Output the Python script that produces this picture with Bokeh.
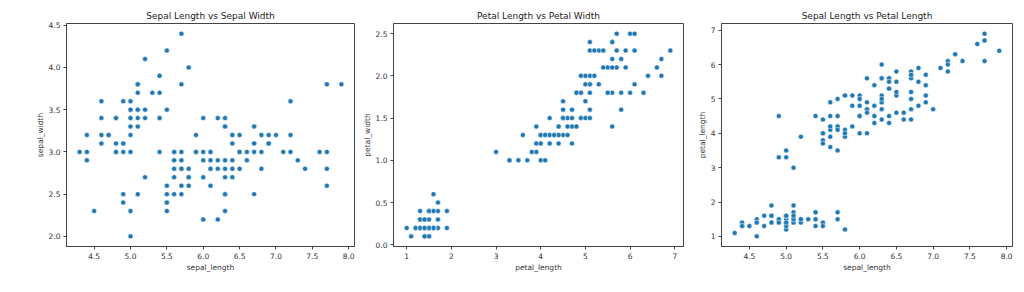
from bokeh.plotting import figure
from bokeh.layouts import row
from bokeh.models import ColumnDataSource, FixedTicker, Range1d, NumeralTickFormatter
from bokeh.embed import file_html
from bokeh.resources import INLINE

# Iris dataset (as seen in the scatter plots)
sepal_length = [5.1,4.9,4.7,4.6,5.0,5.4,4.6,5.0,4.4,4.9,5.4,4.8,4.8,4.3,5.8,5.7,5.4,5.1,5.7,5.1,
                5.4,5.1,4.6,5.1,4.8,5.0,5.0,5.2,5.2,4.7,4.8,5.4,5.2,5.5,4.9,5.0,5.5,4.9,4.4,5.1,
                5.0,4.5,4.4,5.0,5.1,4.8,5.1,4.6,5.3,5.0,7.0,6.4,6.9,5.5,6.5,5.7,6.3,4.9,6.6,5.2,
                5.0,5.9,6.0,6.1,5.6,6.7,5.6,5.8,6.2,5.6,5.9,6.1,6.3,6.1,6.4,6.6,6.8,6.7,6.0,5.7,
                5.5,5.5,5.8,6.0,5.4,6.0,6.7,6.3,5.6,5.5,5.5,6.1,5.8,5.0,5.6,5.7,5.7,6.2,5.1,5.7,
                6.3,5.8,7.1,6.3,6.5,7.6,4.9,7.3,6.7,7.2,6.5,6.4,6.8,5.7,5.8,6.4,6.5,7.7,7.7,6.0,
                6.9,5.6,7.7,6.3,6.7,7.2,6.2,6.1,6.4,7.2,7.4,7.9,6.4,6.3,6.1,7.7,6.3,6.4,6.0,6.9,
                6.7,6.9,5.8,6.8,6.7,6.7,6.3,6.5,6.2,5.9]
sepal_width = [3.5,3.0,3.2,3.1,3.6,3.9,3.4,3.4,2.9,3.1,3.7,3.4,3.0,3.0,4.0,4.4,3.9,3.5,3.8,3.8,
               3.4,3.7,3.6,3.3,3.4,3.0,3.4,3.5,3.4,3.2,3.1,3.4,4.1,4.2,3.1,3.2,3.5,3.6,3.0,3.4,
               3.5,2.3,3.2,3.5,3.8,3.0,3.8,3.2,3.7,3.3,3.2,3.2,3.1,2.3,2.8,2.8,3.3,2.4,2.9,2.7,
               2.0,3.0,2.2,2.9,2.9,3.1,3.0,2.7,2.2,2.5,3.2,2.8,2.5,2.8,2.9,3.0,2.8,3.0,2.9,2.6,
               2.4,2.4,2.7,2.7,3.0,3.4,3.1,2.3,3.0,2.5,2.6,3.0,2.6,2.3,2.7,3.0,2.9,2.9,2.5,2.8,
               3.3,2.7,3.0,2.9,3.0,3.0,2.5,2.9,2.5,3.6,3.2,2.7,3.0,2.5,2.8,3.2,3.0,3.8,2.6,2.2,
               3.2,2.8,2.8,2.7,3.3,3.2,2.8,3.0,2.8,3.0,2.8,3.8,2.8,2.8,2.6,3.0,3.4,3.1,3.0,3.1,
               3.1,3.1,2.7,3.2,3.3,3.0,2.5,3.0,3.4,3.0]
petal_length = [1.4,1.4,1.3,1.5,1.4,1.7,1.4,1.5,1.4,1.5,1.5,1.6,1.4,1.1,1.2,1.5,1.3,1.4,1.7,1.5,
                1.7,1.5,1.0,1.7,1.9,1.6,1.6,1.5,1.4,1.6,1.6,1.5,1.5,1.4,1.5,1.2,1.3,1.4,1.3,1.5,
                1.3,1.3,1.3,1.6,1.9,1.4,1.6,1.4,1.5,1.4,4.7,4.5,4.9,4.0,4.6,4.5,4.7,3.3,4.6,3.9,
                3.5,4.2,4.0,4.7,3.6,4.4,4.5,4.1,4.5,3.9,4.8,4.0,4.9,4.7,4.3,4.4,4.8,5.0,4.5,3.5,
                3.8,3.7,3.9,5.1,4.5,4.5,4.7,4.4,4.1,4.0,4.4,4.6,4.0,3.3,4.2,4.2,4.2,4.3,3.0,4.1,
                6.0,5.1,5.9,5.6,5.8,6.6,4.5,6.3,5.8,6.1,5.1,5.3,5.5,5.0,5.1,5.3,5.5,6.7,6.9,5.0,
                5.7,4.9,6.7,4.9,5.7,6.0,4.8,4.9,5.6,5.8,6.1,6.4,5.6,5.1,5.6,6.1,5.6,5.5,4.8,5.4,
                5.6,5.1,5.1,5.9,5.7,5.2,5.0,5.2,5.4,5.1]
petal_width = [0.2,0.2,0.2,0.2,0.2,0.4,0.3,0.2,0.2,0.1,0.2,0.2,0.1,0.1,0.2,0.4,0.4,0.3,0.3,0.3,
               0.2,0.4,0.2,0.5,0.2,0.2,0.4,0.2,0.2,0.2,0.2,0.4,0.1,0.2,0.2,0.2,0.2,0.1,0.2,0.2,
               0.3,0.3,0.2,0.6,0.4,0.3,0.2,0.2,0.2,0.2,1.4,1.5,1.5,1.3,1.5,1.3,1.6,1.0,1.3,1.4,
               1.0,1.5,1.0,1.4,1.3,1.4,1.5,1.0,1.5,1.1,1.8,1.3,1.5,1.2,1.3,1.4,1.4,1.7,1.5,1.0,
               1.1,1.0,1.2,1.6,1.5,1.6,1.5,1.3,1.3,1.3,1.2,1.4,1.2,1.0,1.3,1.2,1.3,1.3,1.1,1.3,
               2.5,1.9,2.1,1.8,2.2,2.1,1.7,1.8,1.8,2.5,2.0,1.9,2.1,2.0,2.4,2.3,1.8,2.2,2.3,1.5,
               2.3,2.0,2.0,1.8,2.1,1.8,1.8,1.8,2.1,1.6,1.9,2.0,2.2,1.5,1.4,2.3,2.4,1.8,1.8,2.1,
               2.4,2.3,1.9,2.3,2.5,2.3,1.9,2.0,2.3,1.8]

titles = ["Sepal Length vs Sepal Width", "Petal Length vs Petal Width", "Sepal Length vs Petal Length"]
ticks_sl = [4.5, 5.0, 5.5, 6.0, 6.5, 7.0, 7.5, 8.0]
ticks_sw = [2.0, 2.5, 3.0, 3.5, 4.0, 4.5]
ticks_pl = [1, 2, 3, 4, 5, 6, 7]
ticks_pw = [0.0, 0.5, 1.0, 1.5, 2.0, 2.5]

src = ColumnDataSource(dict(sepal_length=sepal_length, sepal_width=sepal_width,
                            petal_length=petal_length, petal_width=petal_width))

FONT = "DejaVu Sans"


def padded(vals):
    lo, hi = min(vals), max(vals)
    m = (hi - lo) * 0.05
    return Range1d(lo - m, hi + m)


def make(xcol, ycol, title, xt, yt, xfmt, yfmt, w, lb, rb):
    p = figure(width=w, height=292, output_backend="svg", toolbar_location=None,
               min_border_left=lb, min_border_right=rb, min_border_top=23, min_border_bottom=46,
               x_range=padded(src.data[xcol]), y_range=padded(src.data[ycol]))
    p.title.text = title
    p.title.align = "center"
    p.title.text_font = FONT
    p.title.text_font_size = "9px"
    p.title.text_font_style = "normal"
    p.title.text_color = "#222222"
    p.title.standoff = 5
    p.xgrid.visible = False
    p.ygrid.visible = False
    p.outline_line_color = "#444444"
    p.outline_line_width = 1
    p.outline_line_alpha = 1
    p.background_fill_color = "white"
    p.border_fill_color = "white"
    for ax, t, f, lab in ((p.xaxis[0], xt, xfmt, xcol), (p.yaxis[0], yt, yfmt, ycol)):
        ax.ticker = FixedTicker(ticks=t)
        ax.formatter = NumeralTickFormatter(format=f)
        ax.axis_label = lab
        ax.axis_label_text_font = FONT
        ax.axis_label_text_font_size = "7.5px"
        ax.axis_label_text_font_style = "normal"
        ax.axis_label_text_color = "#333333"
        ax.axis_label_standoff = 1
        ax.major_label_text_font = FONT
        ax.major_label_text_font_size = "7.5px"
        ax.major_label_text_color = "#333333"
        ax.major_label_standoff = 3
        ax.major_tick_in = 0
        ax.major_tick_out = 3
        ax.major_tick_line_color = "#444444"
        ax.minor_tick_line_color = None
        ax.axis_line_color = "#444444"
    p.scatter(x=xcol, y=ycol, source=src, size=5, fill_color="#1f77b4",
              line_color="white", line_width=0.5)
    return p


p1 = make("sepal_length", "sepal_width", titles[0], ticks_sl, ticks_sw, "0.0", "0.0", 358, 66, 4)
p2 = make("petal_length", "petal_width", titles[1], ticks_pl, ticks_pw, "0", "0.0", 332, 35, 7)
p3 = make("sepal_length", "petal_length", titles[2], ticks_sl, ticks_pl, "0.0", "0", 334, 31, 12)

layout = row(p1, p2, p3)
open("out.html", "w").write(file_html(layout, INLINE))
